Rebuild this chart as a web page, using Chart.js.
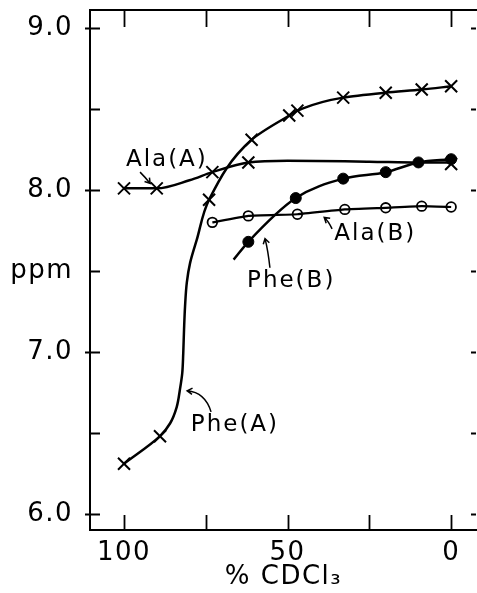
<!DOCTYPE html>
<html><head><meta charset="utf-8">
<script src="https://cdn.jsdelivr.net/npm/chart.js@4"></script>
<style>html,body{margin:0;padding:0;background:#fff;overflow:hidden}canvas{display:block}</style>
</head><body>
<canvas id="c" width="477" height="593"></canvas>
<script>
// ---- data ----
const xTickValues = [100, 50, 0];
const xTickLabels = ['100', '50', '0'];
const xTickMarks = [100, 75, 50, 25, 0];
const yTickValues = [6, 7, 7.5, 8, 9];
const yTickLabels = ['6.0', '7.0', 'ppm', '8.0', '9.0'];
const yTickMarks = [6, 6.5, 7, 7.5, 8, 8.5, 9];
const yLabelledMarks = [6, 7, 8, 9];

// Phe(A) – crosses
const pheA_x = [100, 89, 74, 61, 49.5, 47, 33, 20, 9, 0];
const pheA_y = [6.31, 6.48, 7.94, 8.31, 8.46, 8.49, 8.57, 8.60, 8.62, 8.64];
// Phe(A) drawn curve (traced)
const pheA_curveX = [100, 89, 85.9, 83.9, 82.9, 82.2, 81.9, 81.65, 81.35, 80.8, 79.8, 77.8, 74, 61, 49.5, 47, 33, 20, 9, 0];
const pheA_curveY = [6.31, 6.48, 6.56, 6.66, 6.77, 6.87, 6.99, 7.14, 7.28, 7.43, 7.55, 7.69, 7.94, 8.31, 8.46, 8.49, 8.57, 8.60, 8.62, 8.64];

// Ala(A) – crosses
const alaA_x = [100, 90, 73, 62, 0];
const alaA_y = [8.01, 8.01, 8.11, 8.17, 8.16];
const alaA_curveX = [100, 90, 80, 73, 62, 50, 25, 10, 0];
const alaA_curveY = [8.01, 8.01, 8.06, 8.11, 8.17, 8.18, 8.175, 8.17, 8.17];

// Phe(B) – filled circles
const pheB_x = [62, 47.5, 33, 20, 10, 0];
const pheB_y = [7.68, 7.95, 8.07, 8.11, 8.17, 8.19];
const pheB_curveX = [66.5, 62, 47.5, 33, 20, 10, 0];
const pheB_curveY = [7.57, 7.68, 7.95, 8.07, 8.11, 8.17, 8.19];

// Ala(B) – open circles
const alaB_x = [73, 62, 47, 32.5, 20, 9, 0];
const alaB_y = [7.80, 7.84, 7.85, 7.88, 7.89, 7.90, 7.895];

const pts = (xs, ys) => xs.map((v, i) => ({x: v, y: ys[i]}));

const FONT = '"DejaVu Sans", sans-serif';

// ---- annotations ----
const labels = [
  {text: 'Ala(A)', x: 86.9, y: 8.185},
  {text: 'Phe(A)', x: 66.1, y: 6.55},
  {text: 'Phe(B)', x: 48.9, y: 7.44},
  {text: 'Ala(B)', x: 23.2, y: 7.73}
];
const arrows = [
  {from: [95.1, 8.11], ctrl: [93.6, 8.08], to: [92.0, 8.04]},
  {from: [73.4, 6.63], ctrl: [75.2, 6.75], to: [80.7, 6.76]},
  {from: [55.4, 7.52], ctrl: [56.0, 7.63], to: [56.9, 7.70]},
  {from: [36.4, 7.76], ctrl: [37.6, 7.81], to: [38.8, 7.83]}
];

const spacingPlugin = {
  id: 'spacing',
  beforeDraw(chart) { chart.ctx.letterSpacing = '1.5px'; }
};

const framePlugin = {
  id: 'frame',
  afterDraw(chart) {
    const {ctx, chartArea: a, scales: {x, y}} = chart;
    ctx.save();
    ctx.strokeStyle = '#000';
    ctx.lineWidth = 2;
    ctx.lineCap = 'butt';
    ctx.beginPath();
    ctx.moveTo(a.left, a.bottom); ctx.lineTo(a.left, a.top); ctx.lineTo(a.right, a.top);
    ctx.moveTo(a.left - 1, a.bottom); ctx.lineTo(a.right, a.bottom);
    ctx.stroke();
    ctx.lineWidth = 1.8;
    ctx.beginPath();
    yTickMarks.forEach(v => {
      const py = Math.round(y.getPixelForValue(v)) + 0.5;
      ctx.moveTo(a.left - (yLabelledMarks.includes(v) ? 5 : 0), py);
      ctx.lineTo(a.left + 10, py);
      ctx.moveTo(a.right - 6, py);
      ctx.lineTo(a.right - 1, py);
    });
    xTickMarks.forEach(v => {
      const px = Math.round(x.getPixelForValue(v)) + 0.5;
      ctx.moveTo(px, a.bottom); ctx.lineTo(px, a.bottom - 15);
      ctx.moveTo(px, a.top); ctx.lineTo(px, a.top + 17);
    });
    ctx.stroke();

    // labels
    ctx.fillStyle = '#000';
    ctx.font = '23px ' + FONT;
    ctx.letterSpacing = '2px';
    ctx.textAlign = 'center';
    ctx.textBaseline = 'middle';
    labels.forEach(l => {
      ctx.fillText(l.text, x.getPixelForValue(l.x), y.getPixelForValue(l.y));
    });
    // arrows
    ctx.lineWidth = 1.5;
    arrows.forEach(ar => {
      const fx = x.getPixelForValue(ar.from[0]), fy = y.getPixelForValue(ar.from[1]);
      const cx = x.getPixelForValue(ar.ctrl[0]), cy = y.getPixelForValue(ar.ctrl[1]);
      const tx = x.getPixelForValue(ar.to[0]), ty = y.getPixelForValue(ar.to[1]);
      ctx.beginPath();
      ctx.moveTo(fx, fy);
      ctx.quadraticCurveTo(cx, cy, tx, ty);
      const ang = Math.atan2(ty - cy, tx - cx);
      const L = 6;
      ctx.moveTo(tx - L * Math.cos(ang - 0.55), ty - L * Math.sin(ang - 0.55));
      ctx.lineTo(tx, ty);
      ctx.lineTo(tx - L * Math.cos(ang + 0.55), ty - L * Math.sin(ang + 0.55));
      ctx.stroke();
    });
    ctx.restore();
  }
};

const curveStyle = {type: 'line', borderColor: '#000', borderWidth: 2.5, pointRadius: 0, cubicInterpolationMode: 'monotone', fill: false};

new Chart(document.getElementById('c'), {
  type: 'scatter',
  data: {
    datasets: [
      Object.assign({label: 'Phe(A) curve', data: pts(pheA_curveX, pheA_curveY)}, curveStyle, {indexAxis: 'y'}),
      Object.assign({label: 'Ala(A) curve', data: pts(alaA_curveX, alaA_curveY)}, curveStyle),
      Object.assign({label: 'Phe(B) curve', data: pts(pheB_curveX, pheB_curveY)}, curveStyle),
      {label: 'Ala(B) line', type: 'line', data: pts(alaB_x, alaB_y), borderColor: '#000', borderWidth: 2.2, pointRadius: 0, tension: 0.1, fill: false},
      {label: 'Phe(A)', data: pts(pheA_x, pheA_y), pointStyle: 'crossRot', pointRadius: 8.5, borderColor: '#000', borderWidth: 2},
      {label: 'Ala(A)', data: pts(alaA_x, alaA_y), pointStyle: 'crossRot', pointRadius: 8.5, borderColor: '#000', borderWidth: 2},
      {label: 'Ala(B)', data: pts(alaB_x, alaB_y), pointStyle: 'circle', pointRadius: 4.8, borderColor: '#000', backgroundColor: '#fff', borderWidth: 1.8},
      {label: 'Phe(B)', data: pts(pheB_x, pheB_y), pointStyle: 'circle', pointRadius: 5.5, borderColor: '#000', backgroundColor: '#000', borderWidth: 1}
    ]
  },
  options: {
    responsive: false,
    animation: false,
    devicePixelRatio: 1,
    layout: {autoPadding: false, padding: {top: 10, left: 0, right: 0, bottom: 0}},
    plugins: {legend: {display: false}, tooltip: {enabled: false}},
    scales: {
      x: {
        type: 'linear', reverse: true, min: -7.9, max: 110.4,
        grid: {display: false}, border: {display: false},
        afterBuildTicks: s => { s.ticks = xTickValues.map(v => ({value: v})); },
        afterFit: s => { s.height = 63; s.paddingLeft = 0; s.paddingRight = 0; },
        ticks: {
          autoSkip: false, maxRotation: 0, padding: 0, color: '#000',
          font: {family: FONT, size: 26},
          callback: v => xTickLabels[xTickValues.indexOf(v)]
        },
        title: {display: true, text: '% CDCl₃', color: '#000', font: {family: FONT, size: 26}, padding: {top: 0, bottom: 0}}
      },
      y: {
        type: 'linear', min: 5.901, max: 9.111,
        grid: {display: false}, border: {display: false},
        afterBuildTicks: s => { s.ticks = yTickValues.map(v => ({value: v})); },
        afterFit: s => { s.width = 90; s.paddingTop = 0; s.paddingBottom = 0; },
        ticks: {
          autoSkip: false, padding: 9, color: '#000',
          font: {family: FONT, size: 26},
          callback: v => yTickLabels[yTickValues.indexOf(v)]
        }
      }
    }
  },
  plugins: [spacingPlugin, framePlugin]
});
</script>
</body></html>
